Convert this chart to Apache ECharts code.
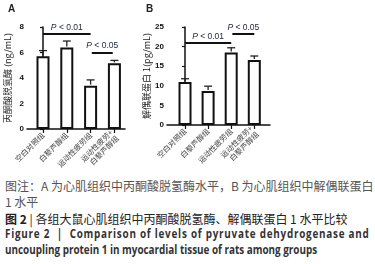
<!DOCTYPE html>
<html>
<head>
<meta charset="utf-8">
<script src="https://cdn.jsdelivr.net/npm/echarts@6/dist/echarts.min.js"></script>
<style>
  body { margin: 0; background: #fff; }
  #wrap { position: relative; width: 375px; height: 264px; overflow: hidden; }
  #chart { position: absolute; left: 0; top: 0; width: 375px; height: 174px; }
  .cap { position: absolute; left: 5px; white-space: nowrap; }
  .note { font-family: "Noto Sans CJK SC"; font-size: 12px; color: #555; line-height: 16px; }
  .title { font-family: "Noto Sans CJK SC"; font-size: 12px; color: #222; }
  .en { font-family: "Open Sans", "Liberation Sans"; font-weight: bold; font-size: 11.5px; color: #333; transform-origin: 0 0; }
</style>
</head>
<body>
<div id="wrap">
  <div id="chart"></div>
  <div class="cap note" style="top:178px;">图注：A 为心肌组织中丙酮酸脱氢酶水平，B 为心肌组织中解偶联蛋白<br>1 水平</div>
  <div class="cap title" style="top:210px;"><b>图 2</b> | 各组大鼠心肌组织中丙酮酸脱氢酶、解偶联蛋白 1 水平比较</div>
  <div class="cap en" id="en1" style="top:226px;">Figure 2 &nbsp;| &nbsp;Comparison of levels of pyruvate dehydrogenase and</div>
  <div class="cap en" id="en2" style="top:242px;">uncoupling protein 1 in myocardial tissue of rats among groups</div>
</div>
<script>
var groups = ['空白对照组', '白藜芦醇组', '运动性疲劳组', '运动性疲劳+\n白藜芦醇组'];

// A: 丙酮酸脱氢酶 (ng/mL)
var aMeans = [5.7, 6.4, 3.4, 5.15];
var aErr = [0.45, 0.5, 0.45, 0.23];
var aSig = [
    { from: 0, to: 2, y: 7.47, text: '0.01' },
    { from: 2.05, to: 2.93, y: 6.0, text: '0.05' }
];

// B: 解偶联蛋白 1 (pg/mL)
var bMeans = [11.0, 8.7, 18.5, 16.6];
var bErr = [0.8, 1.2, 1.2, 1.0];
var bSig = [
    { from: 0, to: 2, y: 21.0, text: '0.01' },
    { from: 2.05, to: 3, y: 23.2, text: '0.05' }
];

var ticks = [0, 1, 2, 3];
var axisFont = 'Liberation Sans';

function xAxisOf(idx, min, max) {
    return {
        type: 'value',
        gridIndex: idx,
        min: min,
        max: max,
        splitLine: { show: false },
        axisLine: { lineStyle: { color: '#111', width: 1.5 } },
        axisTick: { customValues: ticks, length: 4, lineStyle: { color: '#111', width: 1.2 } },
        axisLabel: {
            customValues: ticks,
            rotate: 45,
            margin: 5,
            fontSize: 7.5,
            lineHeight: 8.5,
            color: '#444',
            fontFamily: 'Noto Sans CJK SC',
            formatter: function(v) { return groups[Math.round(v)]; }
        }
    };
}

function yAxisOf(idx, max, interval, name) {
    return {
        type: 'value',
        gridIndex: idx,
        min: 0,
        max: max,
        interval: interval,
        name: name,
        nameLocation: 'middle',
        nameGap: 15,
        nameTextStyle: { fontSize: 9, color: '#222', fontFamily: 'Noto Sans CJK SC' },
        splitLine: { show: false },
        axisLine: { show: true, lineStyle: { color: '#111', width: 1.5 } },
        axisTick: { show: true, length: 3, lineStyle: { color: '#111', width: 1.2 } },
        axisLabel: { fontSize: 8, fontWeight: 'bold', color: '#111', margin: 3, fontFamily: axisFont }
    };
}

function barSeries(idx, means, sig) {
    return {
        type: 'bar',
        xAxisIndex: idx,
        yAxisIndex: idx,
        barWidth: 13,
        data: means.map(function(v, i) { return [i, v]; }),
        itemStyle: { color: '#fff', borderColor: '#111', borderWidth: 2 },
        markLine: {
            silent: true,
            symbol: 'none',
            lineStyle: { color: '#111', width: 2, type: 'solid' },
            label: {
                position: 'insideMiddleTop',
                distance: 2,
                fontSize: 8.5,
                color: '#1c2340',
                fontFamily: axisFont,
                formatter: function(p) { return '{i|P} < ' + p.data.text; },
                rich: { i: { fontStyle: 'italic', fontSize: 8.5, color: '#1c2340', fontFamily: axisFont } }
            },
            data: sig.map(function(s) {
                return [{ coord: [s.from, s.y], text: s.text }, { coord: [s.to, s.y] }];
            })
        }
    };
}

function errSeries(idx, means, errs) {
    return {
        type: 'custom',
        xAxisIndex: idx,
        yAxisIndex: idx,
        z: 5,
        data: means.map(function(v, i) { return [i, v, errs[i]]; }),
        renderItem: function(params, api) {
            var x = api.value(0), y = api.value(1), e = api.value(2);
            var p0 = api.coord([x, y]);
            var p1 = api.coord([x, y + e]);
            var st = { stroke: '#222', lineWidth: 1.3 };
            return {
                type: 'group',
                children: [
                    { type: 'line', shape: { x1: p0[0], y1: p0[1] - 1, x2: p1[0], y2: p1[1] }, style: st },
                    { type: 'line', shape: { x1: p1[0] - 4, y1: p1[1], x2: p1[0] + 4, y2: p1[1] }, style: st }
                ]
            };
        }
    };
}

var chart = echarts.init(document.getElementById('chart'), null, { renderer: 'canvas' });
chart.setOption({
    animation: false,
    grid: [
        { left: 27, top: 27, width: 98, height: 102 },
        { left: 167, top: 27, width: 103, height: 98 }
    ],
    xAxis: [xAxisOf(0, -0.672, 3.445), xAxisOf(1, -0.78, 3.68)],
    yAxis: [
        yAxisOf(0, 8, 2, '丙酮酸脱氢酶 (ng/mL)'),
        yAxisOf(1, 25, 5, '解偶联蛋白 1(pg/mL)')
    ],
    graphic: [
        { type: 'text', left: 8, top: 4, style: { text: 'A', fontSize: 10, fontWeight: 'bold', fill: '#222', fontFamily: axisFont } },
        { type: 'text', left: 146, top: 4, style: { text: 'B', fontSize: 10, fontWeight: 'bold', fill: '#222', fontFamily: axisFont } }
    ],
    series: [
        barSeries(0, aMeans, aSig),
        errSeries(0, aMeans, aErr),
        barSeries(1, bMeans, bSig),
        errSeries(1, bMeans, bErr)
    ]
});

// squeeze the English caption like the narrow print font
var squeeze = 0.86;
function fitLine(el, target, spread) {
    var w = el.scrollWidth;
    if (spread) {
        var n = el.textContent.length;
        el.style.letterSpacing = ((target / squeeze - w) / n) + 'px';
    }
    el.style.transform = 'scaleX(' + squeeze + ')';
}
fitLine(document.getElementById('en1'), 365, true);
fitLine(document.getElementById('en2'), 305, false);
</script>
</body>
</html>
